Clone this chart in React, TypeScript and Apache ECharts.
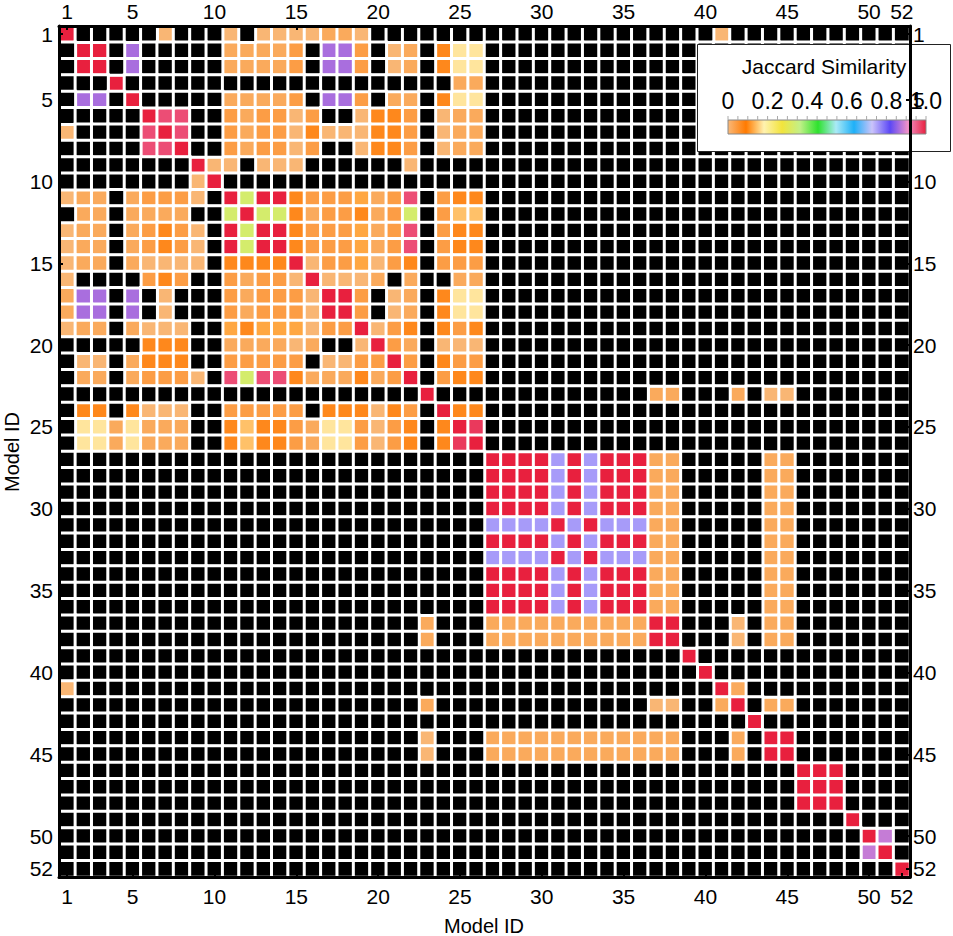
import React, { useEffect, useRef } from 'react';
import * as echarts from 'echarts';

// Model IDs (categories on both axes)
const modelIds = [
  '1','2','3','4','5','6','7','8','9','10','11','12','13','14','15','16','17','18','19','20',
  '21','22','23','24','25','26','27','28','29','30','31','32','33','34','35','36','37','38','39','40',
  '41','42','43','44','45','46','47','48','49','50','51','52',
];

// Tick labels shown on all four sides
const tickLabels = [1, 5, 10, 15, 20, 25, 30, 35, 40, 45, 50, 52];

// Axis titles
const xAxisTitle = 'Model ID';
const yAxisTitle = 'Model ID';
const legendTitle = 'Jaccard Similarity';

// Jaccard similarity level read from each cell colour ('K' = black, no overlap)
const levelValues: Record<string, number> = {
  l: 0.003, o: 0.021, O: 0.039, D: 0.07, A: 0.125, y: 0.145, Y: 0.172,
  G: 0.33, L: 0.757, M: 0.865, m: 0.882, P: 0.964, p: 0.98, R: 1.0,
};

// Matrix rows (model 1..52), columns 1..52 in groups of ten
const similarityRows = [
  'RKKKKKlKKK lKlllloolK KKKKKKKKKK KKKKKKKKKK lKKKKKKKKK KK',
  'KRRKMKKKKK ooooOKMMOK loKDYYKKKK KKKKKKKKKK KKKKKKKKKK KK',
  'KRRKMKKKKK ooooOKMMOK loKDYYKKKK KKKKKKKKKK KKKKKKKKKK KK',
  'KKKRKKKKKK KKKKKKKKKK KKKKooKKKK KKKKKKKKKK KKKKKKKKKK KK',
  'KMMKRKKKKK ooooOKMMOK ooKDYYKKKK KKKKKKKKKK KKKKKKKKKK KK',
  'KKKKKRPPKK OoOOlOKKlD DOKlooKKKK KKKKKKKKKK KKKKKKKKKK KK',
  'lKKKKPRPKK OoOOlDlllD DOKlooKKKK KKKKKKKKKK KKKKKKKKKK KK',
  'KKKKKPPRKK OoOOlOKKlD DOKlooKKKK KKKKKKKKKK KKKKKKKKKK KK',
  'KKKKKKKKRl lKlllKKKKK KlKKKKKKKK KKKKKKKKKK KKKKKKKKKK KK',
  'KKKKKKKKlR KKKKKKKKKK KKKKKKKKKK KKKKKKKKKK KKKKKKKKKK KK',
  'looKoOOOlK RGRRDOOOAo OPKODDKKKK KKKKKKKKKK KKKKKKKKKK KK',
  'KooKooooKK GRGGDoOODo OGKOyyKKKK KKKKKKKKKK KKKKKKKKKK KK',
  'looKoODOlK RGRRDOOOAo OPKODDKKKK KKKKKKKKKK KKKKKKKKKK KK',
  'looKoODOlK RGRRDOOOAo OPKODDKKKK KKKKKKKKKK KKKKKKKKKK KK',
  'looKollllK DDDDRlOOAl ODKOOOKKKK KKKKKKKKKK KKKKKKKKKK KK',
  'lKKKKODOKK OoOOlRlllo KoKKooKKKK KKKKKKKKKK KKKKKKKKKK KK',
  'oMMKMKlKKK OoOOOlRROK loKDYYKKKK KKKKKKKKKK KKKKKKKKKK KK',
  'oMMKMKlKKK OoOOOlRROK loKDYYKKKK KKKKKKKKKK KKKKKKKKKK KK',
  'looKolllKK ADAAAlOORl ODKDODKKKK KKKKKKKKKK KKKKKKKKKK KK',
  'KKKKKDDDKK ooooloKKlR OoKlllKKKK KKKKKKKKKK KKKKKKKKKK KK',
  'KllKoDDDKK OOOOOKllOO ROKDOOKKKK KKKKKKKKKK KKKKKKKKKK KK',
  'KooKoOOOlK PGPPDoooDo ORKODDKKKK KKKKKKKKKK KKKKKKKKKK KK',
  'KKKKKKKKKK KKKKKKKKKK KKRKKKKKKK KKKKKKooKK KoKllKKKKK KK',
  'KDDKDlllKK OOOOOKDDDl DOKRDDKKKK KKKKKKKKKK KKKKKKKKKK KK',
  'KYYoYoooKK DyDDOoYYOl ODKDRpKKKK KKKKKKKKKK KKKKKKKKKK KK',
  'KYYoYoooKK DyDDOoYYOl ODKDpRKKKK KKKKKKKKKK KKKKKKKKKK KK',
  'KKKKKKKKKK KKKKKKKKKK KKKKKKRRRR LRLRRRooKK KKKooKKKKK KK',
  'KKKKKKKKKK KKKKKKKKKK KKKKKKRRRR LRLRRRooKK KKKooKKKKK KK',
  'KKKKKKKKKK KKKKKKKKKK KKKKKKRRRR LRLRRRooKK KKKooKKKKK KK',
  'KKKKKKKKKK KKKKKKKKKK KKKKKKRRRR LRLRRRooKK KKKooKKKKK KK',
  'KKKKKKKKKK KKKKKKKKKK KKKKKKLLLL RLRLLLooKK KKKooKKKKK KK',
  'KKKKKKKKKK KKKKKKKKKK KKKKKKRRRR LRLRRRooKK KKKooKKKKK KK',
  'KKKKKKKKKK KKKKKKKKKK KKKKKKLLLL RLRLLLooKK KKKooKKKKK KK',
  'KKKKKKKKKK KKKKKKKKKK KKKKKKRRRR LRLRRRooKK KKKooKKKKK KK',
  'KKKKKKKKKK KKKKKKKKKK KKKKKKRRRR LRLRRRooKK KKKooKKKKK KK',
  'KKKKKKKKKK KKKKKKKKKK KKKKKKRRRR LRLRRRooKK KKKooKKKKK KK',
  'KKKKKKKKKK KKKKKKKKKK KKoKKKoooo ooooooRRKK KlKooKKKKK KK',
  'KKKKKKKKKK KKKKKKKKKK KKoKKKoooo ooooooRRKK KlKooKKKKK KK',
  'KKKKKKKKKK KKKKKKKKKK KKKKKKKKKK KKKKKKKKRK KKKKKKKKKK KK',
  'KKKKKKKKKK KKKKKKKKKK KKKKKKKKKK KKKKKKKKKR KKKKKKKKKK KK',
  'lKKKKKKKKK KKKKKKKKKK KKKKKKKKKK KKKKKKKKKK RoKKKKKKKK KK',
  'KKKKKKKKKK KKKKKKKKKK KKoKKKKKKK KKKKKKllKK oRKooKKKKK KK',
  'KKKKKKKKKK KKKKKKKKKK KKKKKKKKKK KKKKKKKKKK KKRKKKKKKK KK',
  'KKKKKKKKKK KKKKKKKKKK KKlKKKoooo ooooooooKK KoKRRKKKKK KK',
  'KKKKKKKKKK KKKKKKKKKK KKlKKKoooo ooooooooKK KoKRRKKKKK KK',
  'KKKKKKKKKK KKKKKKKKKK KKKKKKKKKK KKKKKKKKKK KKKKKRRRKK KK',
  'KKKKKKKKKK KKKKKKKKKK KKKKKKKKKK KKKKKKKKKK KKKKKRRRKK KK',
  'KKKKKKKKKK KKKKKKKKKK KKKKKKKKKK KKKKKKKKKK KKKKKRRRKK KK',
  'KKKKKKKKKK KKKKKKKKKK KKKKKKKKKK KKKKKKKKKK KKKKKKKKRK KK',
  'KKKKKKKKKK KKKKKKKKKK KKKKKKKKKK KKKKKKKKKK KKKKKKKKKR mK',
  'KKKKKKKKKK KKKKKKKKKK KKKKKKKKKK KKKKKKKKKK KKKKKKKKKm RK',
  'KKKKKKKKKK KKKKKKKKKK KKKKKKKKKK KKKKKKKKKK KKKKKKKKKK KR',
];

// Colour bar labels
const legendTicks = [0, 0.2, 0.4, 0.6, 0.8, 1.0];

const colormap = [
  '#f9b878', '#ff7a00', '#fff2b0', '#f2e43c', '#c2f088', '#2ee22e',
  '#aaeaf6', '#1eb0f8', '#cbc4fa', '#5c48f6', '#f292c8', '#e8203e',
];

const FONT = '"Liberation Sans", Arial, Helvetica, sans-serif';

const App = () => {
  const ref = useRef<HTMLDivElement>(null);

  useEffect(() => {
    if (!ref.current) return;
    const chart = echarts.init(ref.current, null, { renderer: 'svg' });

    const similarCells: number[][] = [];
    const blackCells: number[][] = [];
    similarityRows.forEach((row, r) => {
      const cells = row.replace(/ /g, '');
      for (let c = 0; c < cells.length; c++) {
        const ch = cells[c];
        if (ch === 'K') blackCells.push([c, r, 0]);
        else similarCells.push([c, r, levelValues[ch]]);
      }
    });

    const showTick = (index: number) => tickLabels.includes(index + 1);

    const baseAxis = (margin: number, extra: any) => ({
      type: 'category',
      data: modelIds,
      z: 10,
      axisLine: { show: true, lineStyle: { color: '#000', width: 3 } },
      axisTick: {
        show: true,
        inside: true,
        length: 4,
        alignWithLabel: true,
        interval: showTick,
        lineStyle: { color: '#000', width: 2 },
      },
      axisLabel: {
        interval: showTick,
        color: '#000',
        fontSize: 21,
        fontFamily: FONT,
        margin,
      },
      splitLine: { show: false },
      splitArea: { show: false },
      ...extra,
    });

    const barX = 728;
    const barW = 198;
    const barY = 120;
    const barH = 14;

    const gradient = new echarts.graphic.LinearGradient(
      0, 0, 1, 0,
      colormap.map((color, i) => ({ offset: i / (colormap.length - 1), color })),
    );

    const elements: any[] = [
      // axis titles
      {
        type: 'text',
        z: 6,
        x: 484,
        y: 926,
        style: {
          text: xAxisTitle,
          fill: '#000',
          font: `20px ${FONT}`,
          align: 'center',
          verticalAlign: 'middle',
        },
      },
      {
        type: 'text',
        z: 6,
        x: 12,
        y: 452,
        rotation: Math.PI / 2,
        style: {
          text: yAxisTitle,
          fill: '#000',
          font: `20px ${FONT}`,
          align: 'center',
          verticalAlign: 'middle',
        },
      },
      // legend box
      {
        type: 'rect',
        z: 5,
        shape: { x: 697.5, y: 44.5, width: 253, height: 107 },
        style: { fill: '#fff', stroke: '#222', lineWidth: 1 },
      },
      {
        type: 'text',
        z: 6,
        x: 824,
        y: 66,
        style: {
          text: legendTitle,
          fill: '#000',
          font: `21px ${FONT}`,
          align: 'center',
          verticalAlign: 'middle',
        },
      },
      {
        type: 'rect',
        z: 6,
        shape: { x: barX, y: barY, width: barW, height: barH },
        style: { fill: gradient, stroke: '#888', lineWidth: 1 },
      },
    ];
    for (let k = 0; k <= 20; k++) {
      const x = barX + (barW * k) / 20;
      elements.push({
        type: 'line',
        z: 6,
        shape: { x1: x, y1: barY - 4, x2: x, y2: barY },
        style: { stroke: '#aaa', lineWidth: 1 },
      });
    }
    legendTicks.forEach((v) => {
      elements.push({
        type: 'text',
        z: 6,
        x: barX + barW * v,
        y: 101,
        style: {
          text: v === 0 ? '0' : v.toFixed(1),
          fill: '#000',
          font: `23px ${FONT}`,
          align: 'center',
          verticalAlign: 'middle',
        },
      });
    });

    const option: any = {
      animation: false,
      backgroundColor: '#fff',
      grid: {
        left: 59,
        top: 26,
        width: 851,
        height: 851,
        containLabel: false,
        outerBoundsMode: 'none',
      },
      xAxis: [
        baseAxis(9, { position: 'bottom' }),
        baseAxis(4, { position: 'top' }),
      ],
      yAxis: [
        baseAxis(6, { position: 'left', inverse: true }),
        baseAxis(3, { position: 'right', inverse: true }),
      ],
      visualMap: [
        {
          show: false,
          type: 'continuous',
          min: 0,
          max: 1,
          seriesIndex: 0,
          inRange: { color: colormap },
        },
        {
          show: false,
          type: 'continuous',
          min: 0,
          max: 1,
          seriesIndex: 1,
          inRange: { color: ['#000000', '#000000'] },
          outOfRange: { color: ['#000000'] },
        },
      ],
      graphic: { elements },
      series: [
        {
          type: 'heatmap',
          xAxisIndex: 0,
          yAxisIndex: 0,
          data: similarCells,
          z: 2,
          itemStyle: { borderColor: '#fff', borderWidth: 3 },
          emphasis: { disabled: true },
        },
        {
          type: 'heatmap',
          xAxisIndex: 0,
          yAxisIndex: 0,
          data: blackCells,
          z: 2,
          itemStyle: { borderColor: '#fff', borderWidth: 3 },
          emphasis: { disabled: true },
        },
      ],
    };

    chart.setOption(option);
    return () => chart.dispose();
  }, []);

  return (
    <div
      ref={ref}
      style={{ position: 'absolute', left: 0, top: 0, width: 953, height: 936 }}
    />
  );
};

export default App;
